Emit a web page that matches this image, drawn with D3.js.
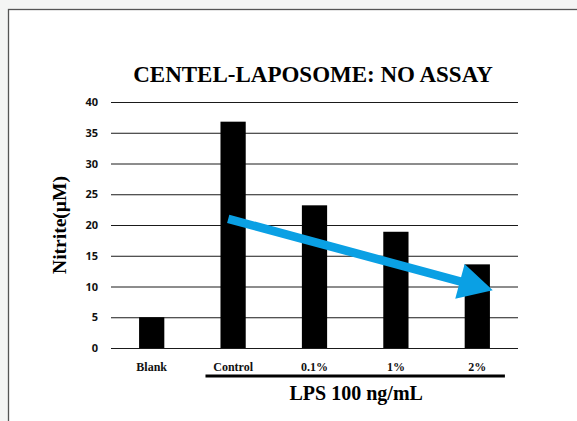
<!DOCTYPE html>
<html>
<head>
<meta charset="utf-8">
<script src="https://cdn.jsdelivr.net/npm/d3@7/dist/d3.min.js"></script>
<style>
  html, body { margin: 0; padding: 0; background: #f4f5f4; }
  svg { display: block; }
</style>
</head>
<body>
<div class="chart"></div>
<script>
const categories = ["Blank", "Control", "0.1%", "1%", "2%"];
const nitrite = [5.0, 36.8, 23.2, 18.9, 13.6];
const yTicks = [0, 5, 10, 15, 20, 25, 30, 35, 40];
// trend arrow, x in category index units (0 = Blank centre), y in µM
const trendArrow = [{ i: 0.94, v: 21.0 }, { i: 4.19, v: 9.4 }];
const groupLabel = "LPS 100 ng/mL";
const groupFrom = "Control", groupTo = "2%";

const W = 577, H = 421;
const margin = { top: 102, right: 59, bottom: 73, left: 111 };
const width = W - margin.left - margin.right;
const height = H - margin.top - margin.bottom;

const svg = d3.select(".chart").append("svg")
    .attr("width", W)
    .attr("height", H);

// slide frame
svg.append("rect")
    .attr("x", 8.5).attr("y", 9.5)
    .attr("width", W + 10).attr("height", H + 10)
    .attr("fill", "#fff")
    .attr("stroke", "#555")
    .attr("stroke-width", 1.3);

const g = svg.append("g")
    .attr("transform", "translate(" + margin.left + "," + margin.top + ")");

const x = d3.scaleBand().domain(categories).range([0, width]).paddingInner(0.69).paddingOuter(0.345);
const y = d3.scaleLinear().domain([0, 40]).range([height, 0]);
const xi = d3.scaleLinear().domain([-0.5, categories.length - 0.5]).range([0, width]);

// gridlines
const yAxis = d3.axisLeft(y).tickValues(yTicks).tickSize(-width).tickPadding(13);
const ya = g.append("g").attr("class", "y axis").call(yAxis);
ya.select(".domain").remove();
ya.selectAll(".tick line").attr("stroke", "#1a1a1a").attr("stroke-width", 1);
ya.selectAll(".tick text")
    .attr("font-family", "'Open Sans', sans-serif")
    .attr("font-weight", "bold")
    .attr("font-size", 11)
    .attr("fill", "#111");

// bars
g.selectAll("rect.bar").data(nitrite).enter().append("rect")
    .attr("class", "bar")
    .attr("x", (d, i) => x(categories[i]))
    .attr("y", d => y(d))
    .attr("width", x.bandwidth())
    .attr("height", d => y(0) - y(d))
    .attr("fill", "#000");

// x axis labels
const xAxis = d3.axisBottom(x).tickSize(0).tickPadding(14);
const xa = g.append("g").attr("class", "x axis")
    .attr("transform", "translate(0," + height + ")")
    .call(xAxis);
xa.select(".domain").remove();
xa.selectAll(".tick text")
    .attr("font-family", "'Liberation Serif', 'Times New Roman', serif")
    .attr("font-weight", "bold")
    .attr("font-size", 12)
    .attr("fill", "#111");

// group bracket
const bx0 = x(groupFrom) - 15, bx1 = x(groupTo) + x.bandwidth() + 15;
g.append("line")
    .attr("x1", bx0).attr("x2", bx1)
    .attr("y1", height + 28).attr("y2", height + 28)
    .attr("stroke", "#000").attr("stroke-width", 3.2);
g.append("text")
    .attr("x", (bx0 + bx1) / 2 + 1)
    .attr("y", height + 52)
    .attr("text-anchor", "middle")
    .attr("font-family", "'Liberation Serif', 'Times New Roman', serif")
    .attr("font-weight", "bold")
    .attr("font-size", 20)
    .text(groupLabel);

// title
svg.append("text")
    .attr("x", 313)
    .attr("y", 82)
    .attr("text-anchor", "middle")
    .attr("font-family", "'Liberation Serif', 'Times New Roman', serif")
    .attr("font-weight", "bold")
    .attr("font-size", 23)
    .text("CENTEL-LAPOSOME: NO ASSAY");

// y title
svg.append("text")
    .attr("transform", "translate(66," + (margin.top + height / 2) + ") rotate(-90)")
    .attr("text-anchor", "middle")
    .attr("font-family", "'Liberation Serif', 'Times New Roman', serif")
    .attr("font-weight", "bold")
    .attr("font-size", 19.5)
    .text("Nitrite(\u00b5M)");

// trend arrow
const p0 = [xi(trendArrow[0].i), y(trendArrow[0].v)];
const p1 = [xi(trendArrow[1].i), y(trendArrow[1].v)];
const ang = Math.atan2(p1[1] - p0[1], p1[0] - p0[0]);
const headLen = 34, headHalf = 18, shaft = 4.3;
const ux = Math.cos(ang), uy = Math.sin(ang), nx = -uy, ny = ux;
const hb = [p1[0] - ux * headLen, p1[1] - uy * headLen];
const pts = [
    [p0[0] + nx * shaft, p0[1] + ny * shaft],
    [hb[0] + nx * shaft, hb[1] + ny * shaft],
    [hb[0] + nx * headHalf, hb[1] + ny * headHalf],
    p1,
    [hb[0] - nx * headHalf, hb[1] - ny * headHalf],
    [hb[0] - nx * shaft, hb[1] - ny * shaft],
    [p0[0] - nx * shaft, p0[1] - ny * shaft]
];
g.append("path")
    .attr("d", d3.line()(pts) + "Z")
    .attr("fill", "#0aa0e4");
</script>
</body>
</html>
